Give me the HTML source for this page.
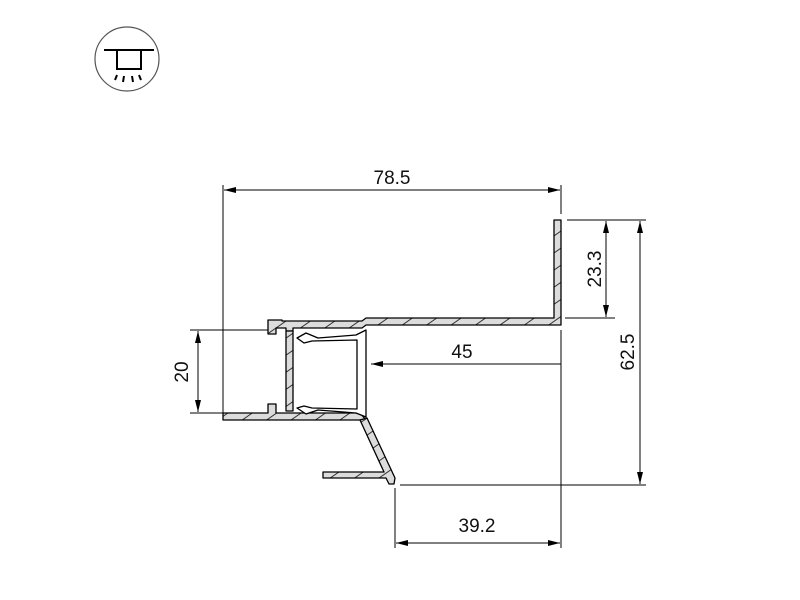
<!DOCTYPE html>
<html><head><style>body{margin:0;background:#fff}svg{display:block}</style></head><body>
<svg width="800" height="600" viewBox="0 0 800 600" xmlns="http://www.w3.org/2000/svg" font-family="Liberation Sans, sans-serif">
<defs>
<pattern id="h" width="14" height="14" patternUnits="userSpaceOnUse" patternTransform="rotate(-35)">
<rect width="14" height="14" fill="#dcdcdc"/><line x1="0" y1="7" x2="14" y2="7" stroke="#333" stroke-width="1"/></pattern>
<marker id="a" viewBox="0 0 12 6" refX="12" refY="3" markerWidth="12" markerHeight="6" orient="auto-start-reverse" markerUnits="userSpaceOnUse"><path d="M0,0L12,3L0,6z" fill="#000"/></marker>
</defs>
<!-- icon -->
<circle cx="127" cy="59" r="32" fill="none" stroke="#555" stroke-width="1.2"/>
<line x1="104" y1="50" x2="154" y2="50" stroke="#000" stroke-width="2"/>
<rect x="117" y="50" width="24" height="19" fill="none" stroke="#000" stroke-width="2"/>
<g stroke="#000" stroke-width="2"><line x1="117" y1="75" x2="115" y2="80"/><line x1="124" y1="76" x2="123" y2="82"/><line x1="132" y1="76" x2="133" y2="82"/><line x1="139" y1="75" x2="141" y2="80"/></g>
<!-- profile -->
<g fill="url(#h)" stroke="#000" stroke-width="1.3" stroke-linejoin="round">
<path d="M554,220 L561,220 L561,325 L366,325 L362,328 L293,328 L293,331 L286,331 L286,328 L276,328 L276,334 L268,334 L268,320 L282,320 L282,321 L362,321 L366,318 L554,318 Z"/>
<path d="M286,331 L293,331 L293,411 L286,411 Z"/>
<path d="M223,413 L268,413 L268,404 L276,404 L276,413 L360,413 L366,420 L223,420 Z"/>
<path d="M360,420 L367,418 L395,478 L394,484 L389,484 L386,478 L323,478 L323,472 L384,472 Z"/>
<path d="M297,338 L306,333 L318,338 L356,335 L366,330 L366,417 L356,413 L318,410 L306,414 L297,408 L304,406 L312,408 L357,409 L357,340 L312,341 L304,343 Z" fill="#fff"/>
</g>
<g stroke="#000" stroke-width="1" fill="none">
<line x1="223" y1="185" x2="223" y2="420"/>
<line x1="561" y1="185" x2="561" y2="214"/>
<line x1="561" y1="330" x2="561" y2="548"/>
<line x1="567" y1="220" x2="646" y2="220"/>
<line x1="565" y1="318" x2="615" y2="318"/>
<line x1="400" y1="485" x2="646" y2="485"/>
<line x1="190" y1="330" x2="268" y2="330"/>
<line x1="190" y1="413" x2="223" y2="413"/>
<line x1="395" y1="488" x2="395" y2="548"/>
<line x1="224" y1="190" x2="560" y2="190" marker-start="url(#a)" marker-end="url(#a)"/>
<line x1="606" y1="221" x2="606" y2="317" marker-start="url(#a)" marker-end="url(#a)"/>
<line x1="640" y1="221" x2="640" y2="484" marker-start="url(#a)" marker-end="url(#a)"/>
<line x1="198" y1="331" x2="198" y2="412" marker-start="url(#a)" marker-end="url(#a)"/>
<line x1="561" y1="364" x2="371" y2="364" marker-end="url(#a)"/>
<line x1="396" y1="543" x2="560" y2="543" marker-start="url(#a)" marker-end="url(#a)"/>
</g>
<g font-size="19" fill="#111" text-anchor="middle">
<text x="392" y="184">78.5</text>
<text x="462" y="358">45</text>
<text x="477" y="532">39.2</text>
<text transform="translate(601,269) rotate(-90)">23.3</text>
<text transform="translate(634,352) rotate(-90)">62.5</text>
<text transform="translate(188,372) rotate(-90)">20</text>
</g>
</svg>
</body></html>
